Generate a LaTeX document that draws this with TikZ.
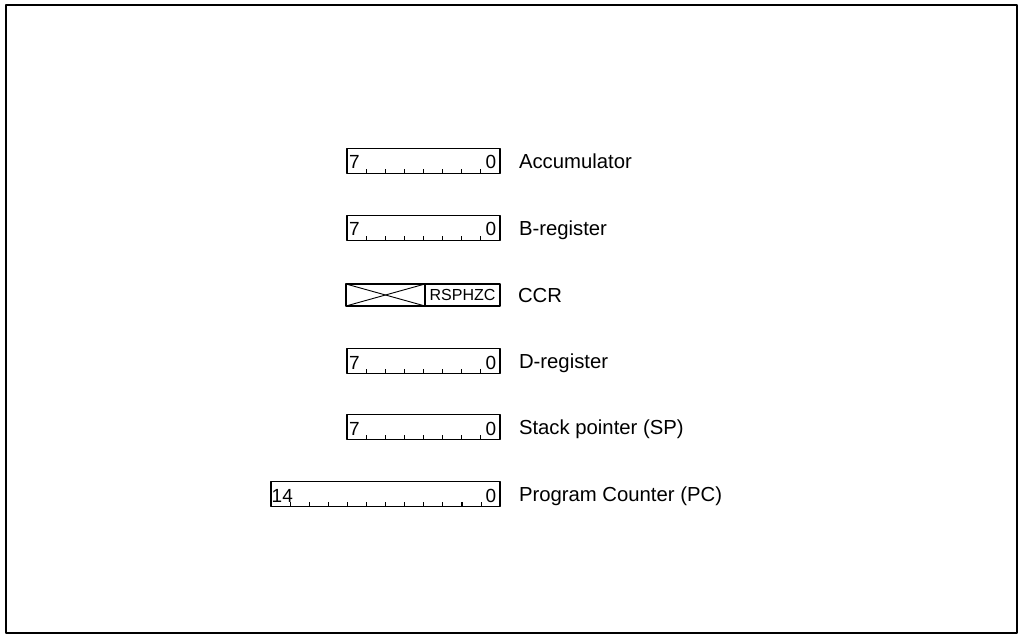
\documentclass[tikz,border=0pt]{standalone}
\usepackage{fontspec}
\setmainfont{Liberation Sans}
\usepackage{tikz}
\usetikzlibrary{positioning,calc}
\tikzset{
    every picture/.style={line cap=round,line join=round},
    outerframe/.style={draw,line width=2.2pt},
    regbox/.style={draw,line width=1.4pt,minimum width=153pt,minimum height=25pt,
      inner sep=0pt,outer sep=0pt},
    widebox/.style={regbox,minimum width=229pt},
    ccrpart/.style={draw,line width=1.4pt,minimum height=22pt,inner sep=0pt,outer sep=0pt,
      font=\fontsize{16}{16}\selectfont},
    bittick/.style={line width=1.1pt,line cap=butt},
    bitnum/.style={font=\fontsize{19}{19}\selectfont,inner sep=0pt},
    reglabel/.style={font=\fontsize{20.3}{21}\selectfont,inner sep=0pt,outer sep=0pt,
      text height=14.5pt,text depth=0pt}
}
\begin{document}
\begin{tikzpicture}[x=1pt,y=-1pt]
    \useasboundingbox (0,0) rectangle (1020,636);
    \draw[outerframe] (6,5) rectangle (1017,633);
    % register boxes
    \node[regbox,anchor=east] (acc) at (500,161) {};
    \node[regbox,anchor=east] (breg) at (500,228) {};
    \node[ccrpart,anchor=east,minimum width=75pt] (flags) at (500,295) {RSPHZC};
    \node[ccrpart,anchor=east,minimum width=79pt] (unused) at (flags.west) {};
    \node[regbox,anchor=east] (dreg) at (500,361) {};
    \node[regbox,anchor=east] (sp) at (500,427) {};
    \node[widebox,anchor=east] (pc) at (500,494) {};
    \draw[line width=0.9pt] (unused.north west) -- (unused.south east);
    \draw[line width=0.9pt] (unused.south west) -- (unused.north east);
    % bit ticks
    \foreach \regname in {acc,breg,dreg,sp}
      \foreach \i in {1,...,7}
        \draw[bittick] ($(\regname.south west)+(\i*19.1,0)$) -- ++(0,-4.5);
    \foreach \i in {1,...,11}
      \draw[bittick] ($(pc.south west)+(\i*19.1,0)$) -- ++(0,-4.5);
    % bit numbers
    \foreach \regname in {acc,breg,dreg,sp} {
      \node[bitnum,anchor=base west] (\regname-msb) at ($(\regname.south west)+(2,-4.5)$) {7};
      \node[bitnum,anchor=base east] (\regname-lsb) at ($(\regname.south east)+(-3.5,-4.5)$) {0};
    }
    \node[bitnum,anchor=base west] (pc-msb) at ($(pc.south west)+(0.5,-4.5)$) {14};
    \node[bitnum,anchor=base east] (pc-lsb) at ($(pc.south east)+(-3.5,-4.5)$) {0};
    % names
    \node[reglabel,right=19pt of acc] (acclab) {Accumulator};
    \node[reglabel,right=19pt of breg] (breglab) {B-register};
    \node[reglabel,right=18pt of flags] (ccrlab) {CCR};
    \node[reglabel,right=19pt of dreg] (dreglab) {D-register};
    \node[reglabel,right=19pt of sp] (splab) {Stack pointer (SP)};
    \node[reglabel,right=19pt of pc] (pclab) {Program Counter (PC)};
\end{tikzpicture}
\end{document}
